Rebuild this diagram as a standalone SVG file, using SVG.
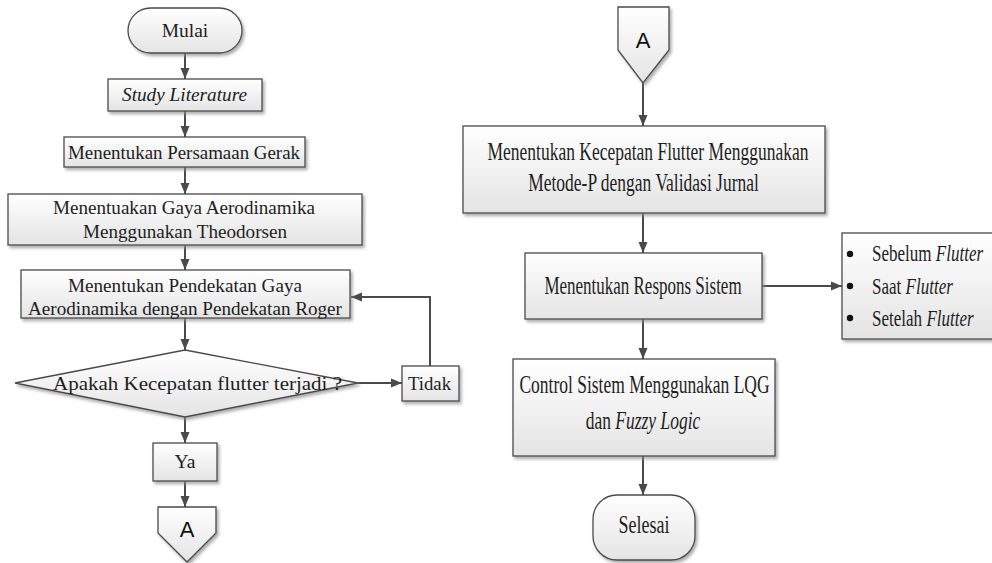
<svg xmlns="http://www.w3.org/2000/svg" width="992" height="563" viewBox="0 0 992 563">
<defs>
<linearGradient id="g" x1="0" y1="0" x2="0" y2="1">
<stop offset="0" stop-color="#ffffff"/>
<stop offset="1" stop-color="#e4e4e4"/>
</linearGradient>
<filter id="sh" x="-5%" y="-5%" width="115%" height="125%">
<feDropShadow dx="2" dy="2.5" stdDeviation="1.5" flood-color="#8a8a8a" flood-opacity="0.7"/>
</filter>
<marker id="ah" markerUnits="userSpaceOnUse" markerWidth="12" markerHeight="12" viewBox="0 0 12 12" refX="11" refY="6" orient="auto">
<path d="M0,1.5 L11,6 L0,10.5 Z" fill="#4a4a4a"/>
</marker>
</defs>
<style>
.box{fill:url(#g);stroke:#4a4a4a;stroke-width:1.3;filter:url(#sh)}
.t{font-family:"Liberation Serif","Times New Roman",serif;font-size:19.5px;fill:#1e1e1e}
.r{font-family:"Liberation Serif","Times New Roman",serif;font-size:25px;fill:#1e1e1e}
.b{font-family:"Liberation Serif","Times New Roman",serif;font-size:24px;fill:#1e1e1e}
.m{text-anchor:middle}
.a{font-family:"Liberation Sans",Arial,sans-serif;font-size:22px;fill:#111}
.c{fill:none;stroke:#4a4a4a;stroke-width:2;marker-end:url(#ah)}
</style>
<rect width="992" height="563" fill="#ffffff"/>
<g id="connectors">
<line class="c" x1="185" y1="53" x2="185" y2="79"/>
<line class="c" x1="185" y1="111" x2="185" y2="137"/>
<line class="c" x1="185" y1="167" x2="185" y2="194"/>
<line class="c" x1="185" y1="245" x2="185" y2="270"/>
<line class="c" x1="185" y1="318" x2="185" y2="350"/>
<line class="c" x1="358" y1="383" x2="402" y2="383"/>
<polyline class="c" points="430,366 430,297 351,297"/>
<line class="c" x1="185" y1="417" x2="185" y2="443"/>
<line class="c" x1="185" y1="481" x2="185" y2="507"/>
<line class="c" x1="643" y1="83" x2="643" y2="126"/>
<line class="c" x1="643" y1="213" x2="643" y2="253"/>
<line class="c" x1="762" y1="286" x2="842" y2="286"/>
<line class="c" x1="643" y1="319" x2="643" y2="359"/>
<line class="c" x1="643" y1="456" x2="643" y2="495"/>
</g>
<g id="mulai">
<rect class="box" x="128" y="8" width="114" height="45" rx="22.5"/>
<text class="t m" x="185" y="37">Mulai</text>
</g>
<g id="study">
<rect class="box" x="108" y="79" width="154" height="32"/>
<text class="t" x="122" y="101" font-style="italic" textLength="125" lengthAdjust="spacingAndGlyphs">Study Literature</text>
</g>
<g id="persamaan">
<rect class="box" x="64" y="137" width="241" height="30"/>
<text class="t" x="68" y="159" textLength="232" lengthAdjust="spacingAndGlyphs">Menentukan Persamaan Gerak</text>
</g>
<g id="theodorsen">
<rect class="box" x="8" y="194" width="354" height="51"/>
<text class="t" x="53" y="214" textLength="262" lengthAdjust="spacingAndGlyphs">Menentuakan Gaya Aerodinamika</text>
<text class="t" x="83" y="238" textLength="204" lengthAdjust="spacingAndGlyphs">Menggunakan Theodorsen</text>
</g>
<g id="roger">
<rect class="box" x="21" y="270" width="329" height="48"/>
<text class="t" x="68" y="292" textLength="234" lengthAdjust="spacingAndGlyphs">Menentukan Pendekatan Gaya</text>
<text class="t" x="28" y="315" textLength="314" lengthAdjust="spacingAndGlyphs">Aerodinamika dengan Pendekatan Roger</text>
</g>
<g id="decision">
<polygon class="box" points="185,350 358,383 185,417 15,383"/>
<text class="t" x="53" y="390" textLength="289" lengthAdjust="spacingAndGlyphs">Apakah Kecepatan flutter terjadi ?</text>
</g>
<g id="tidak">
<rect class="box" x="402" y="366" width="57" height="35"/>
<text class="t" x="408" y="390" textLength="43" lengthAdjust="spacingAndGlyphs">Tidak</text>
</g>
<g id="ya">
<rect class="box" x="153" y="443" width="64" height="38"/>
<text class="t m" x="185" y="468">Ya</text>
</g>
<g id="offpage-a1">
<polygon class="box" points="158,507 216,507 216,533 187,562 158,533"/>
<text class="a m" x="187" y="537">A</text>
</g>
<g id="offpage-a2">
<polygon class="box" points="618,7 669,7 669,50 643,83 618,50"/>
<text class="a m" x="643" y="48">A</text>
</g>
<g id="kecepatan">
<rect class="box" x="463" y="126" width="362" height="87"/>
<text class="r m" transform="translate(648,160) scale(0.7,1)">Menentukan Kecepatan Flutter Menggunakan</text>
<text class="r m" transform="translate(643.5,191) scale(0.7,1)">Metode-P dengan Validasi Jurnal</text>
</g>
<g id="respons">
<rect class="box" x="525" y="253" width="237" height="66"/>
<text class="r m" transform="translate(643,294) scale(0.68,1)">Menentukan Respons Sistem</text>
</g>
<g id="bullets">
<rect class="box" x="842" y="233" width="155" height="106"/>
<circle cx="850" cy="254" r="3.2" fill="#111"/>
<circle cx="850" cy="286" r="3.2" fill="#111"/>
<circle cx="850" cy="318" r="3.2" fill="#111"/>
<text class="b" transform="translate(872,261) scale(0.71,1)">Sebelum <tspan font-style="italic">Flutter</tspan></text>
<text class="b" transform="translate(872,294) scale(0.71,1)">Saat <tspan font-style="italic">Flutter</tspan></text>
<text class="b" transform="translate(872,326) scale(0.71,1)">Setelah <tspan font-style="italic">Flutter</tspan></text>
</g>
<g id="control">
<rect class="box" x="513" y="359" width="262" height="97"/>
<text class="r m" transform="translate(644.5,393) scale(0.7,1)">Control Sistem Menggunakan LQG</text>
<text class="r m" transform="translate(643,429) scale(0.7,1)">dan <tspan font-style="italic">Fuzzy Logic</tspan></text>
</g>
<g id="selesai">
<rect class="box" x="593" y="495" width="102" height="65" rx="24"/>
<text class="r m" transform="translate(644,533) scale(0.72,1)">Selesai</text>
</g>
</svg>
